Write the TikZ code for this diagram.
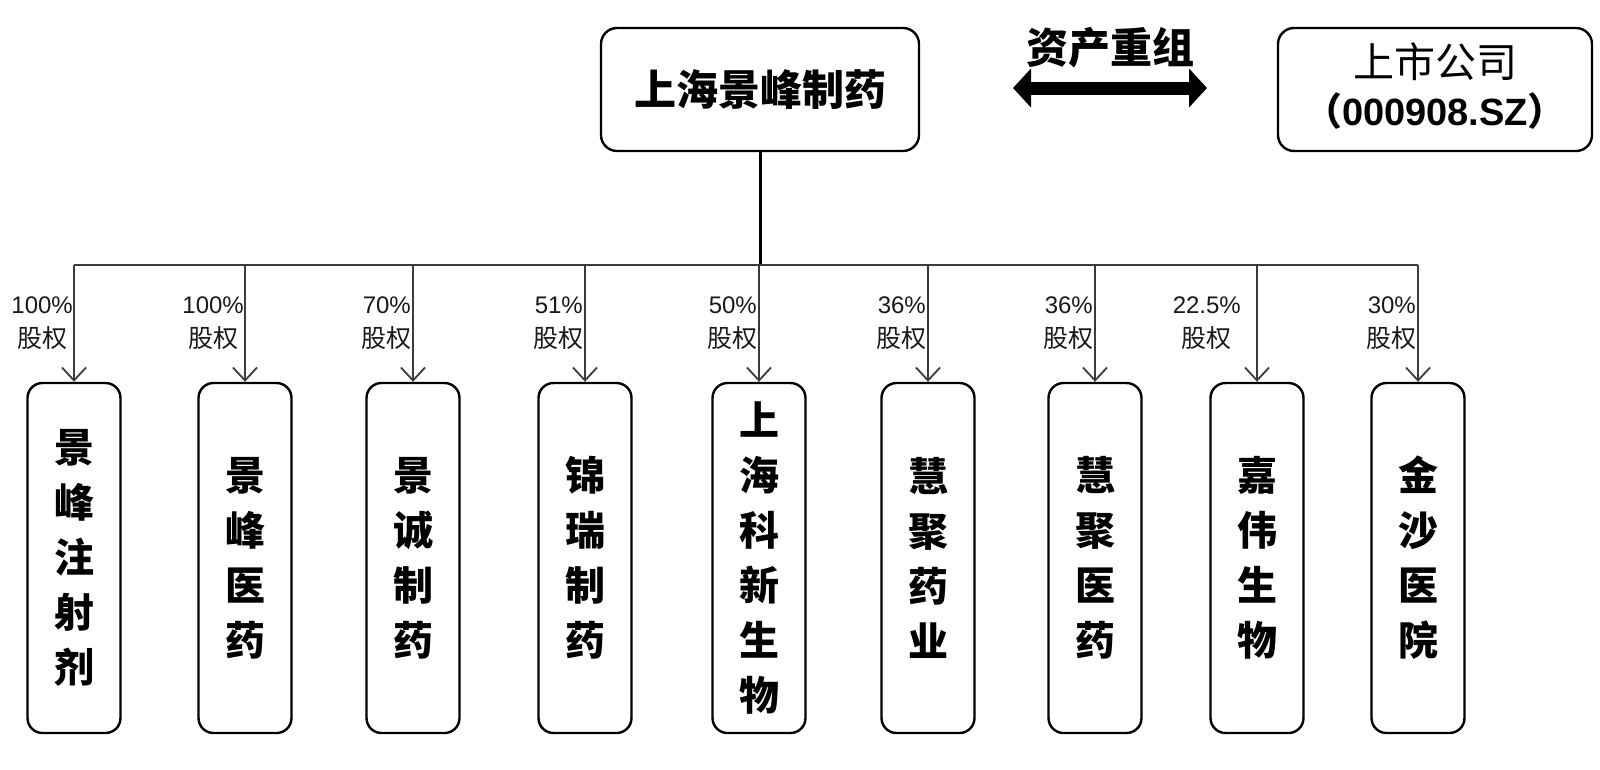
\documentclass[tikz,border=0pt]{standalone}
\usepackage{fontspec}
\setmainfont{Liberation Sans}
\newfontfamily\cjk{Noto Sans CJK SC}
\usetikzlibrary{arrows.meta}
\definecolor{linegrey}{HTML}{3C3C3C}
\tikzset{
  topbox/.style={draw=black, line width=2.4pt, rounded corners=16pt, fill=white,
    minimum width=318pt, minimum height=123pt, inner sep=0pt},
  childbox/.style={draw=black, line width=2.4pt, rounded corners=15pt, fill=white,
    minimum width=93pt, minimum height=350pt, inner sep=0pt, align=center,
    font=\cjk\bfseries\fontsize{40}{55}\selectfont},
  sharelabel/.style={anchor=east, align=center, inner sep=0pt,
    font=\fontsize{24}{34}\selectfont, text=black!90},
  sharearrow/.style={draw=linegrey, line width=1.8pt,
    -{Straight Barb[length=13pt,width=24pt,line width=1.8pt]}},
}
\newcommand{\gq}{\\[0pt]{\cjk\fontsize{25}{34}\selectfont 股权}}
\begin{document}
\begin{tikzpicture}[x=1pt,y=-1pt]
\useasboundingbox (0,0) rectangle (1600,769);

% top nodes
\node[topbox, font=\cjk\bfseries\fontsize{42}{46}\selectfont] (parent) at (760,89.5) {上海景峰制药};
\node[topbox, minimum width=314pt] (listed) at (1435,89.5) {};
\node[font=\cjk\fontsize{41}{46}\selectfont, inner sep=0pt] (listedname) at (1435,62) {上市公司};
\node[font=\bfseries\fontsize{38}{44}\selectfont, inner sep=0pt] (listedcode) at (1435,111) {{\cjk （}000908.SZ{\cjk ）}};

% restructuring arrow
\coordinate (ra) at (1013,88);
\coordinate (rb) at (1207,88);
\draw[line width=13pt, {Triangle[length=18pt,width=38pt]}-{Triangle[length=18pt,width=38pt]}] (ra) -- (rb);
\node[font=\cjk\bfseries\fontsize{42}{46}\selectfont, inner sep=0pt] (rlabel) at (1110,48) {资产重组};

% children
\node[childbox] (c1) at (74,558)   {景\\峰\\注\\射\\剂};
\node[childbox] (c2) at (245,558)  {景\\峰\\医\\药};
\node[childbox] (c3) at (413,558)  {景\\诚\\制\\药};
\node[childbox] (c4) at (585,558)  {锦\\瑞\\制\\药};
\node[childbox] (c5) at (759,558)  {上\\海\\科\\新\\生\\物};
\node[childbox] (c6) at (928,558)  {慧\\聚\\药\\业};
\node[childbox] (c7) at (1095,558) {慧\\聚\\医\\药};
\node[childbox] (c8) at (1257,558) {嘉\\伟\\生\\物};
\node[childbox] (c9) at (1418,558) {金\\沙\\医\\院};

% trunk
\coordinate (hub) at (760,265);
\coordinate (hl) at (74,265);
\coordinate (hr) at (1418,265);
\draw[line width=3pt, black] (parent.south) -- (hub);
\draw[line width=2.2pt, linegrey] (hl) -- (hr);

% branches
\foreach \c in {c1,c2,c3,c4,c5,c6,c7,c8,c9}{
  \coordinate (\c top) at (\c.north |- hl);
  \draw[sharearrow] (\c top) -- (\c.north);
}

% labels
\node[sharelabel] (l1) at ([xshift=-1pt]c1.north |- 0,323) {100\%\gq};
\node[sharelabel] (l2) at ([xshift=-1pt]c2.north |- 0,323) {100\%\gq};
\node[sharelabel] (l3) at ([xshift=-1pt]c3.north |- 0,323) {70\%\gq};
\node[sharelabel] (l4) at ([xshift=-1pt]c4.north |- 0,323) {51\%\gq};
\node[sharelabel] (l5) at ([xshift=-1pt]c5.north |- 0,323) {50\%\gq};
\node[sharelabel] (l6) at ([xshift=-1pt]c6.north |- 0,323) {36\%\gq};
\node[sharelabel] (l7) at ([xshift=-1pt]c7.north |- 0,323) {36\%\gq};
\node[sharelabel] (l8) at ([xshift=-16pt]c8.north |- 0,323) {22.5\%\gq};
\node[sharelabel] (l9) at ([xshift=-1pt]c9.north |- 0,323) {30\%\gq};
\end{tikzpicture}
\end{document}
